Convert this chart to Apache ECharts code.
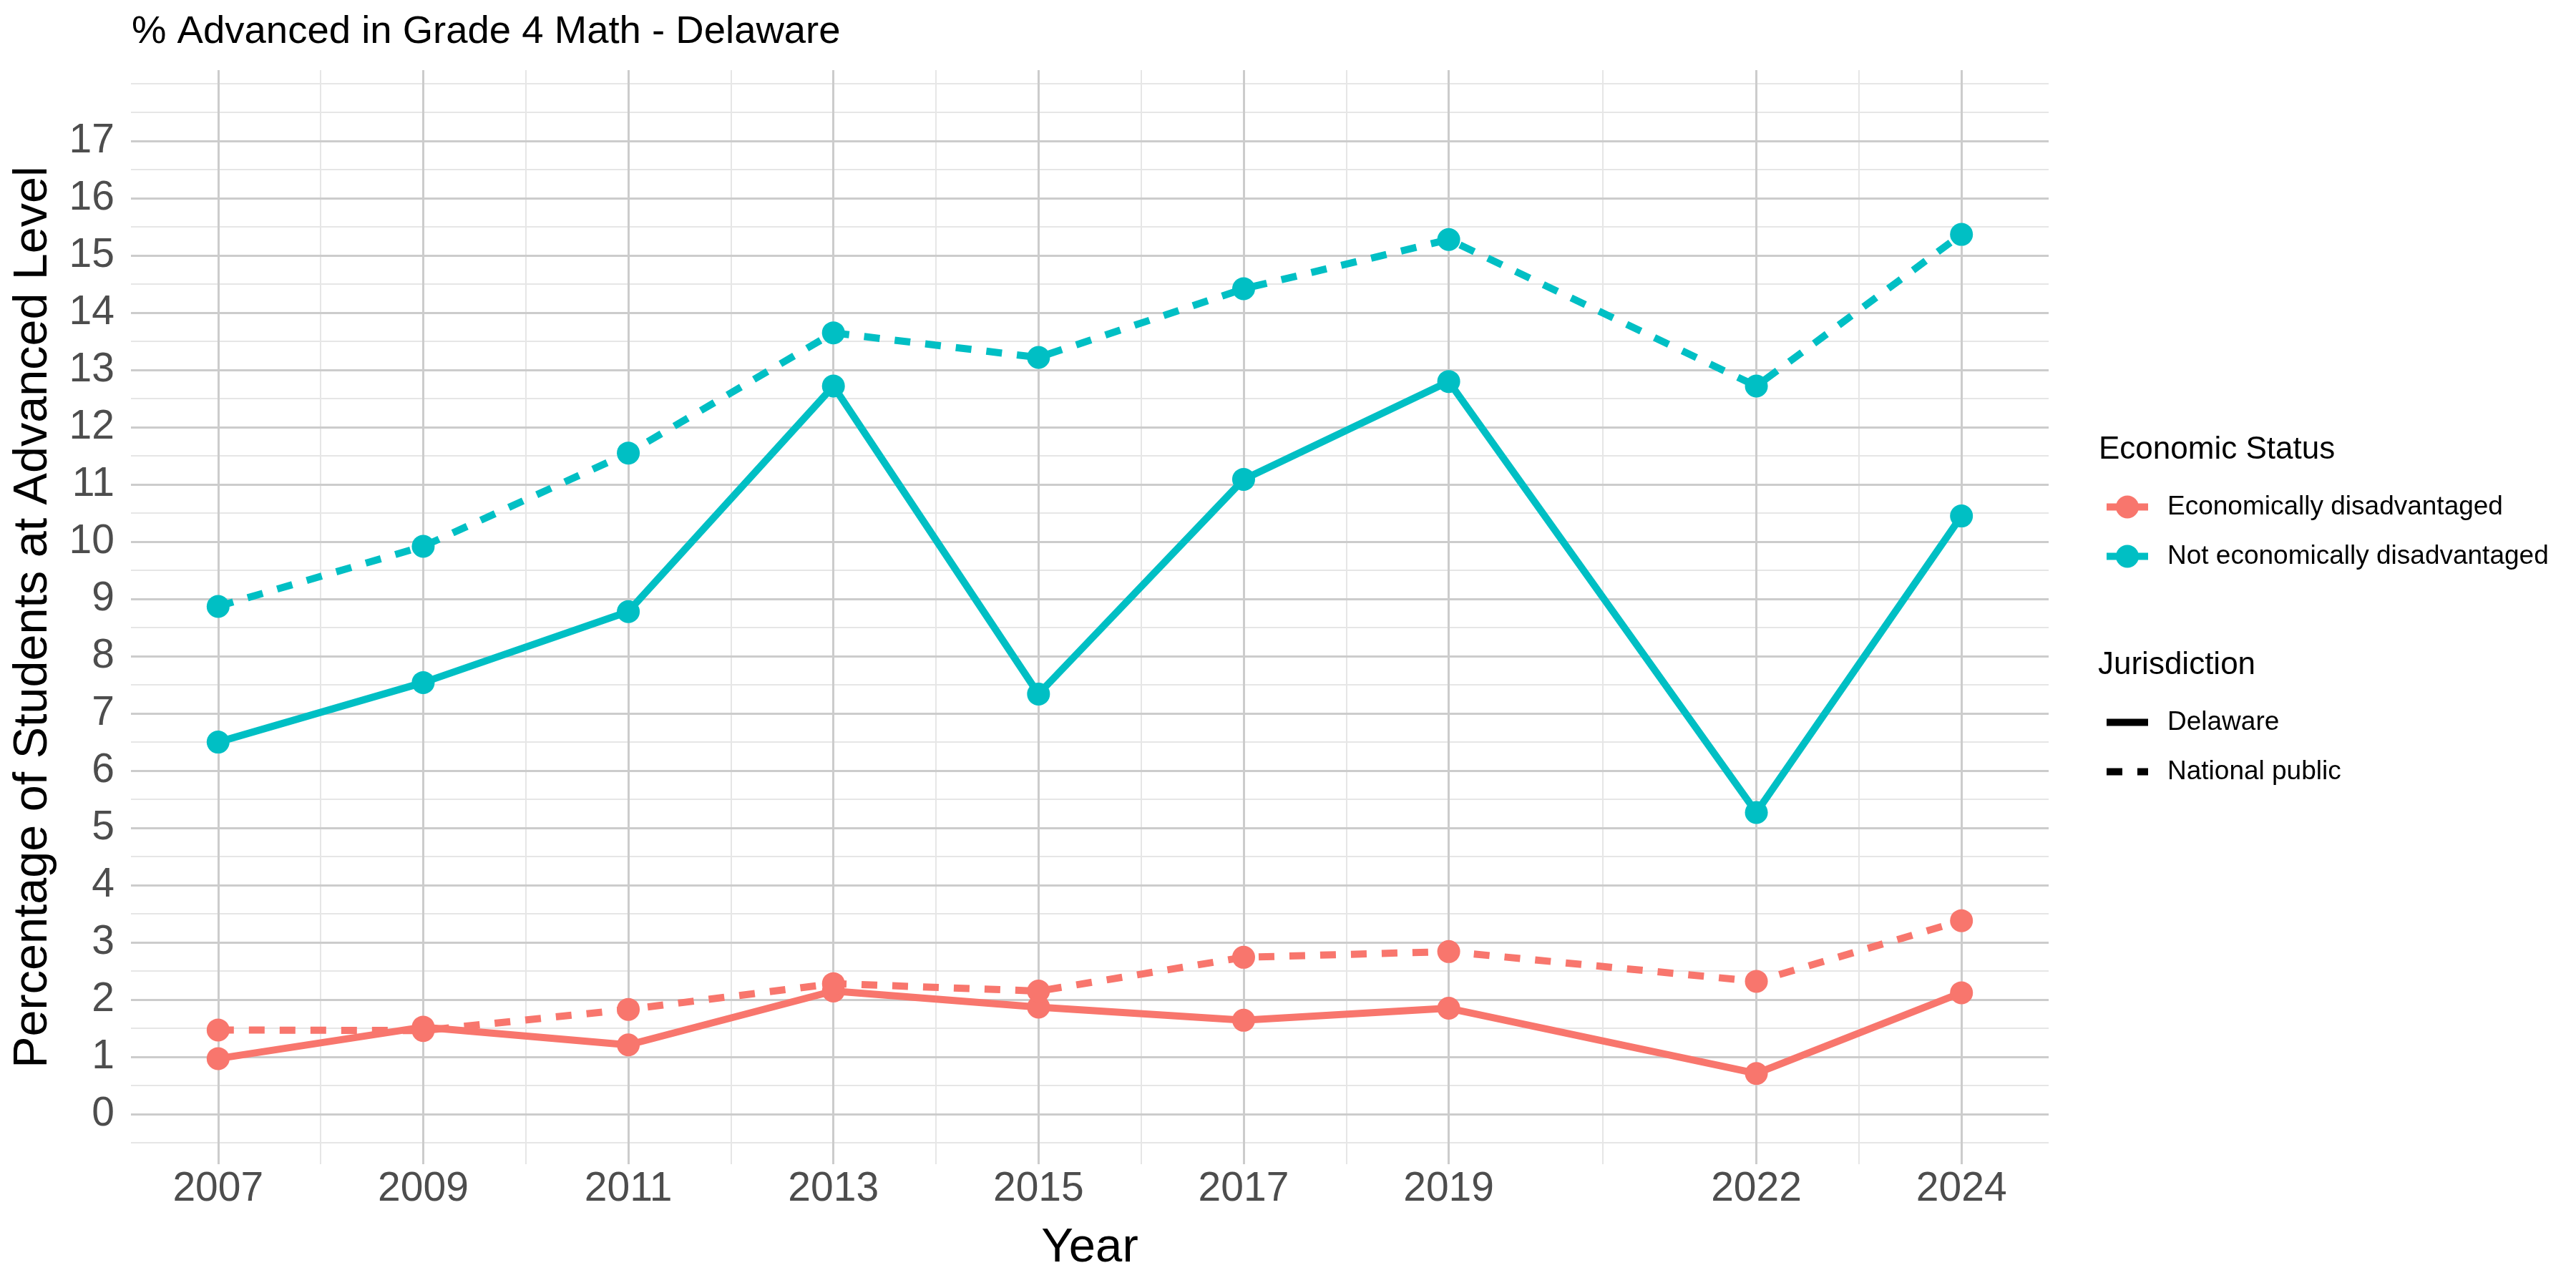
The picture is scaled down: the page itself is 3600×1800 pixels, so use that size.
<!DOCTYPE html>
<html>
<head>
<meta charset="utf-8">
<title>% Advanced in Grade 4 Math - Delaware</title>
<script src="https://cdn.jsdelivr.net/npm/echarts@6/dist/echarts.min.js"></script>
<style>
    html, body { margin: 0; padding: 0; background: #fff; }
    #chart { width: 3600px; height: 1800px; }
</style>
</head>
<body>
<div id="chart"></div>
<script>
// assessment years (2021 skipped, so the axis is numeric, not category)
var years = [2007, 2009, 2011, 2013, 2015, 2017, 2019, 2022, 2024];

// % at Advanced level
var econDisDelaware = [0.97, 1.52, 1.21, 2.15, 1.87, 1.64, 1.85, 0.71, 2.12];
var econDisNational = [1.47, 1.46, 1.83, 2.28, 2.15, 2.74, 2.84, 2.32, 3.38];
var notDisDelaware = [6.50, 7.54, 8.78, 12.72, 7.34, 11.09, 12.80, 5.27, 10.45];
var notDisNational = [8.87, 9.92, 11.55, 13.65, 13.22, 14.42, 15.28, 12.72, 15.37];

// tick labels and grid lines
var yTicks = [0, 1, 2, 3, 4, 5, 6, 7, 8, 9, 10, 11, 12, 13, 14, 15, 16, 17];
var yMinor = [-0.5, 0.5, 1.5, 2.5, 3.5, 4.5, 5.5, 6.5, 7.5, 8.5, 9.5, 10.5, 11.5, 12.5, 13.5, 14.5, 15.5, 16.5, 17.5, 18];
var xMinor = [2008, 2010, 2012, 2014, 2016, 2018, 2020.5, 2023];

var statusNames = ['Economically disadvantaged', 'Not economically disadvantaged'];
var jurisdictionNames = ['Delaware', 'National public'];

var RED = '#F8766D';
var CYAN = '#00BFC4';
var FONT = 'Liberation Sans';
var DASH = [22, 21];

function pairs(vals) {
    return years.map(function(y, i) { return [y, vals[i]]; });
}

function gridSeries(name, xs, ys, color, width, z) {
    var data = [];
    xs.forEach(function(v) { data.push({ xAxis: v }); });
    ys.forEach(function(v) { data.push({ yAxis: v }); });
    return {
        name: name,
        type: 'line',
        data: [],
        z: z,
        silent: true,
        markLine: {
            silent: true,
            animation: false,
            symbol: ['none', 'none'],
            label: { show: false },
            emphasis: { disabled: true },
            lineStyle: { color: color, width: width, type: 'solid' },
            data: data
        }
    };
}

function dataSeries(name, vals, color, dashed) {
    return {
        name: name,
        type: 'line',
        data: pairs(vals),
        z: 5,
        symbol: 'circle',
        symbolSize: 32,
        showSymbol: true,
        color: color,
        itemStyle: { color: color },
        lineStyle: { color: color, width: 10, type: dashed ? DASH : 'solid' },
        emphasis: { disabled: true }
    };
}

// empty series only used to feed the two legends
function legendSeries(name, color, dashed) {
    return {
        name: name,
        type: 'line',
        data: [],
        symbol: 'circle',
        color: color,
        itemStyle: { color: color },
        lineStyle: { color: color, width: 10, type: dashed ? DASH : 'solid' }
    };
}

var chart = echarts.init(document.getElementById('chart'));

var option = {
    animation: false,
    backgroundColor: '#ffffff',
    textStyle: { fontFamily: FONT },
    title: [{
        text: '% Advanced in Grade 4 Math - Delaware',
        left: 184,
        top: 17,
        padding: 0,
        textStyle: { fontFamily: FONT, fontSize: 54.5, fontWeight: 'normal', color: '#000' }
    }, {
        text: 'Economic Status',
        left: 2933,
        top: 607,
        padding: 0,
        textStyle: { fontFamily: FONT, fontSize: 44, fontWeight: 'normal', color: '#000' }
    }, {
        text: 'Jurisdiction',
        left: 2932,
        top: 908,
        padding: 0,
        textStyle: { fontFamily: FONT, fontSize: 44, fontWeight: 'normal', color: '#000' }
    }],
    legend: [{
        data: statusNames,
        orient: 'vertical',
        left: 2939,
        top: 690,
        padding: 0,
        itemWidth: 58,
        itemHeight: 40,
        itemGap: 32,
        selectedMode: false,
        lineStyle: { width: 10 },
        textStyle: { fontFamily: FONT, fontSize: 37, color: '#000', padding: [0, 0, 0, 22] }
    }, {
        data: jurisdictionNames,
        orient: 'vertical',
        left: 2939,
        top: 991,
        padding: 0,
        itemWidth: 58,
        itemHeight: 40,
        itemGap: 32,
        selectedMode: false,
        itemStyle: { opacity: 0 },
        lineStyle: { width: 10 },
        textStyle: { fontFamily: FONT, fontSize: 37, color: '#000', padding: [0, 0, 0, 22] }
    }],
    grid: {
        left: 183,
        right: 737,
        top: 98,
        bottom: 173,
        containLabel: false
    },
    xAxis: {
        type: 'value',
        min: 2006.15,
        max: 2024.85,
        name: 'Year',
        nameLocation: 'middle',
        nameGap: 84,
        nameTextStyle: { fontFamily: FONT, fontSize: 67, color: '#000' },
        axisLine: { show: false },
        axisTick: { show: false },
        splitLine: { show: false },
        axisLabel: {
            customValues: years,
            margin: 7,
            fontFamily: FONT,
            fontSize: 57,
            color: '#4D4D4D',
            formatter: function(v) { return String(v); }
        }
    },
    yAxis: {
        type: 'value',
        min: -0.875,
        max: 18.24,
        name: 'Percentage of Students at Advanced Level',
        nameLocation: 'middle',
        nameGap: 103,
        nameTextStyle: { fontFamily: FONT, fontSize: 66.5, color: '#000' },
        axisLine: { show: false },
        axisTick: { show: false },
        splitLine: { show: false },
        axisLabel: {
            customValues: yTicks,
            margin: 23,
            fontFamily: FONT,
            fontSize: 57,
            color: '#4D4D4D'
        }
    },
    series: [
        gridSeries('minor grid', xMinor, yMinor, '#E6E6E6', 2, 0),
        gridSeries('major grid', years, yTicks, '#CCCCCC', 3, 1),
        dataSeries('Economically disadvantaged - Delaware', econDisDelaware, RED, false),
        dataSeries('Economically disadvantaged - National public', econDisNational, RED, true),
        dataSeries('Not economically disadvantaged - Delaware', notDisDelaware, CYAN, false),
        dataSeries('Not economically disadvantaged - National public', notDisNational, CYAN, true),
        legendSeries(statusNames[0], RED, false),
        legendSeries(statusNames[1], CYAN, false),
        legendSeries(jurisdictionNames[0], '#000000', false),
        legendSeries(jurisdictionNames[1], '#000000', true)
    ]
};

chart.setOption(option);

window.addEventListener('resize', function() {
    chart.resize();
});
</script>
</body>
</html>
